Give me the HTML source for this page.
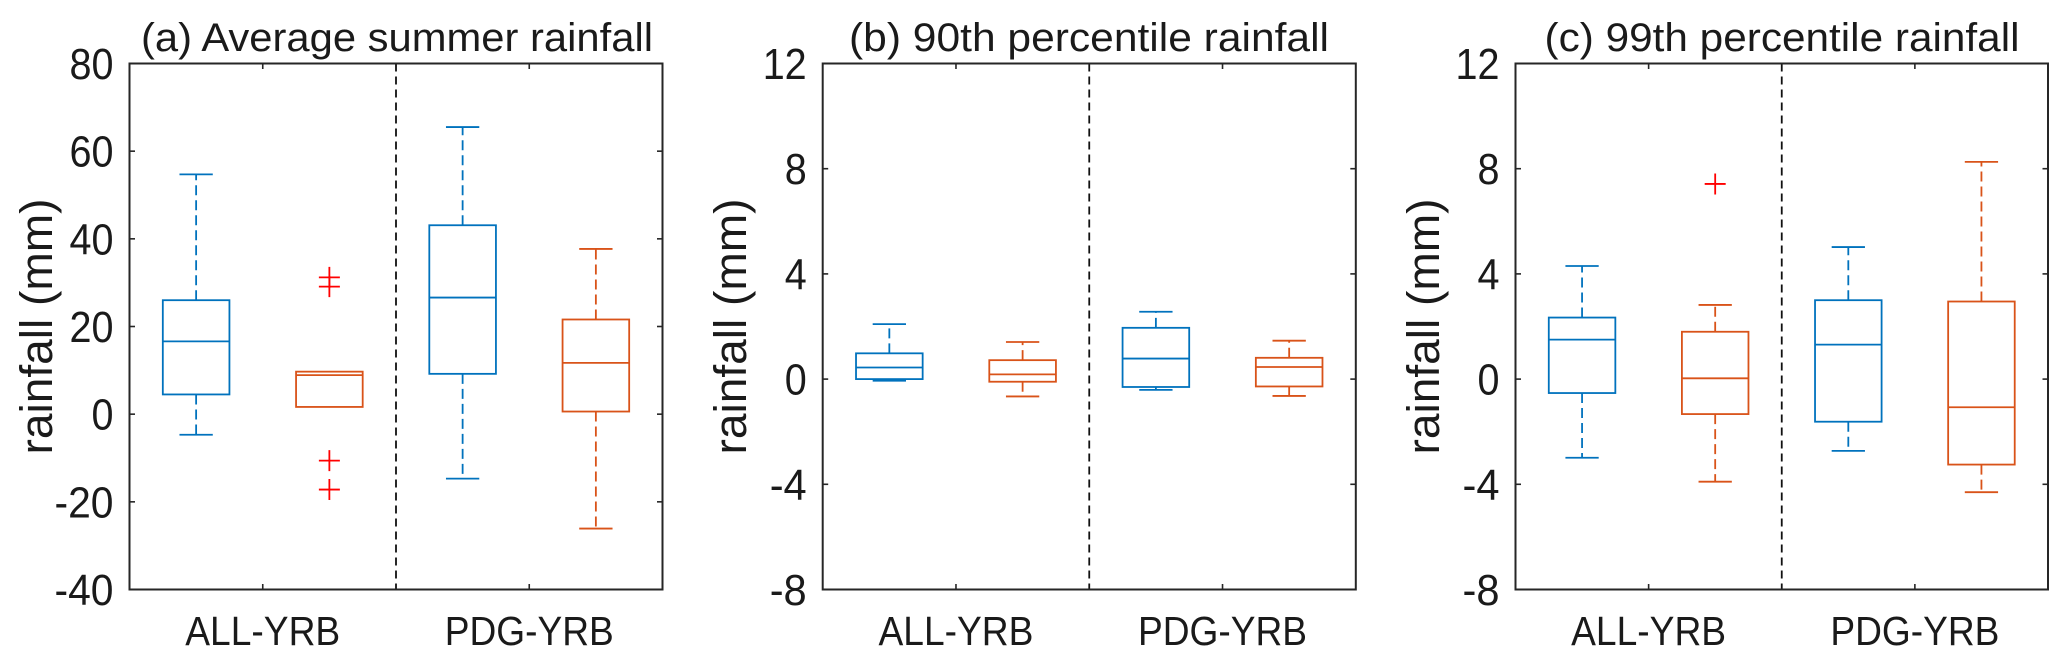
<!DOCTYPE html>
<html lang="en">
<head>
<meta charset="utf-8">
<title>Rainfall box plots</title>
<style>
html,body{margin:0;padding:0;background:#fff;width:2067px;height:667px;overflow:hidden}
svg{display:block}
text{font-family:"Liberation Sans","DejaVu Sans",sans-serif;fill:#1a1a1a}
</style>
</head>
<body>
<svg id="figure" xmlns="http://www.w3.org/2000/svg" width="2067" height="667" viewBox="0 0 2067 667">
  <rect x="0" y="0" width="2067" height="667" fill="#fff"/>
  <g id="panel-a">
    <text x="397" y="51" font-size="40" text-anchor="middle" textLength="512" lengthAdjust="spacingAndGlyphs">(a) Average summer rainfall</text>
    <text transform="translate(52,326.5) rotate(-90)" font-size="45" text-anchor="middle" textLength="256" lengthAdjust="spacingAndGlyphs">rainfall (mm)</text>
  </g>
  <g id="panel-b">
    <text x="1089" y="51" font-size="40" text-anchor="middle" textLength="480" lengthAdjust="spacingAndGlyphs">(b) 90th percentile rainfall</text>
    <text transform="translate(746,326.5) rotate(-90)" font-size="45" text-anchor="middle" textLength="256" lengthAdjust="spacingAndGlyphs">rainfall (mm)</text>
  </g>
  <g id="panel-c">
    <text x="1782" y="51" font-size="40" text-anchor="middle" textLength="475" lengthAdjust="spacingAndGlyphs">(c) 99th percentile rainfall</text>
    <text transform="translate(1439,326.5) rotate(-90)" font-size="45" text-anchor="middle" textLength="256" lengthAdjust="spacingAndGlyphs">rainfall (mm)</text>
  </g>
</svg>
<script>
// Shared labels
const groupLabels = ['ALL-YRB', 'PDG-YRB'];
const boxColors = ['#0072BD', '#D95319', '#0072BD', '#D95319'];

// Panel (a) average summer rainfall
const aTicks = [80, 60, 40, 20, 0, -20, -40];
const aHigh = [54.7, 9.7, 65.5, 37.7];
const aQ3 = [26.0, 9.7, 43.1, 21.6];
const aMedian = [16.6, 8.9, 26.6, 11.7];
const aQ1 = [4.5, 1.65, 9.2, 0.6];
const aLow = [-4.7, 1.65, -14.7, -26.1];
const aOutliers = [[], [31.2, 29.1, -10.6, -17.2], [], []];

// Panel (b) 90th percentile rainfall
const bTicks = [12, 8, 4, 0, -4, -8];
const bHigh = [2.09, 1.41, 2.56, 1.46];
const bQ3 = [0.98, 0.72, 1.95, 0.81];
const bMedian = [0.44, 0.18, 0.78, 0.46];
const bQ1 = [0.0, -0.1, -0.3, -0.28];
const bLow = [-0.06, -0.66, -0.41, -0.64];
const bOutliers = [[], [], [], []];

// Panel (c) 99th percentile rainfall
const cTicks = [12, 8, 4, 0, -4, -8];
const cHigh = [4.3, 2.82, 5.02, 8.26];
const cQ3 = [2.34, 1.8, 3.0, 2.95];
const cMedian = [1.5, 0.03, 1.31, -1.07];
const cQ1 = [-0.53, -1.33, -1.62, -3.25];
const cLow = [-2.99, -3.9, -2.73, -4.3];
const cOutliers = [[], [7.42], [], []];

const SVG_NS = 'http://www.w3.org/2000/svg';
const AXIS_COLOR = '#262626';

function make(parent, tag, attrs) {
  const el = document.createElementNS(SVG_NS, tag);
  for (const k in attrs) el.setAttribute(k, attrs[k]);
  parent.appendChild(el);
  return el;
}

function drawPanel(id, left, right, ticks, high, q3, median, q1, low, outliers) {
  const parent = document.getElementById(id);
  const top = 63.5, bottom = 589.5;
  const plotW = right - left;
  const yMax = Math.max.apply(null, ticks);
  const yMin = Math.min.apply(null, ticks);
  const xScale = function (pos) { return left + plotW * (pos - 0.5) / 4; };
  const yScale = function (v) { return bottom - (v - yMin) / (yMax - yMin) * (bottom - top); };
  const tickLen = 5.5;

  // y ticks and labels
  ticks.forEach(function (t) {
    const y = yScale(t);
    const tl = make(parent, 'line', { x1: left, x2: left + tickLen, y1: y, y2: y, stroke: AXIS_COLOR, 'stroke-width': 1.6 });
    
    
    const tr = make(parent, 'line', { x1: right, x2: right - tickLen, y1: y, y2: y, stroke: AXIS_COLOR, 'stroke-width': 1.6 });
    
    
    const str = String(t);
    const digits = str.replace('-', '').length;
    const labelWidth = digits * 22 + (t < 0 ? 15 : 0);
    const lab = make(parent, 'text', { x: left - 16, y: y + 15.5, 'font-size': 44, 'text-anchor': 'end', textLength: labelWidth, lengthAdjust: 'spacingAndGlyphs' });
    lab.textContent = str;
    
    
  });

  // x ticks at category boundaries
  [1.5, 3.5].forEach(function (pos) {
    const x = xScale(pos);
    const tb = make(parent, 'line', { x1: x, x2: x, y1: bottom, y2: bottom - tickLen, stroke: AXIS_COLOR, 'stroke-width': 1.6 });
    
    
    const tt = make(parent, 'line', { x1: x, x2: x, y1: top, y2: top + tickLen, stroke: AXIS_COLOR, 'stroke-width': 1.6 });
    
    
  });

  // group labels
  groupLabels.forEach(function (name, i) {
    const lab = make(parent, 'text', { x: xScale(1.5 + i * 2), y: 645, 'font-size': 41, 'text-anchor': 'middle', textLength: i === 0 ? 155 : 169, lengthAdjust: 'spacingAndGlyphs' });
    lab.textContent = name;
    
    
  });

  // divider between the two groups
  const div = make(parent, 'line', { x1: xScale(2.5), x2: xScale(2.5), y1: top, y2: bottom, stroke: '#111', 'stroke-width': 1.8, 'stroke-dasharray': '8 5' });
  
  

  // boxes
  high.forEach(function (h, i) {
    const pos = i + 1;
    const cx = xScale(pos);
    const halfBox = plotW * 0.25 / 4;
    const halfCap = plotW * 0.125 / 4;
    const color = boxColors[i];
    const g = make(parent, 'g', { fill: 'none', stroke: color, 'stroke-width': 1.8 });
    
    

    const wu = make(g, 'line', { x1: cx, x2: cx, y1: yScale(q3[i]), y2: yScale(h), 'stroke-dasharray': '10 5' });
    
    
    const wl = make(g, 'line', { x1: cx, x2: cx, y1: yScale(q1[i]), y2: yScale(low[i]), 'stroke-dasharray': '10 5' });
    
    

    if (h > q3[i]) {
      const cu = make(g, 'line', { x1: cx - halfCap, x2: cx + halfCap, y1: yScale(h), y2: yScale(h) });
      
      
    }
    if (low[i] < q1[i]) {
      const cl = make(g, 'line', { x1: cx - halfCap, x2: cx + halfCap, y1: yScale(low[i]), y2: yScale(low[i]) });
      
      
    }

    const rect = make(g, 'rect', { x: cx - halfBox, y: yScale(q3[i]), width: halfBox * 2, height: yScale(q1[i]) - yScale(q3[i]), fill: '#fff' });
    
    
    const med = make(g, 'line', { x1: cx - halfBox, x2: cx + halfBox, y1: yScale(median[i]), y2: yScale(median[i]) });
    
    

    outliers[i].forEach(function (v) {
      const y = yScale(v);
      const o = make(g, 'path', { d: 'M' + (cx - 10.5) + ' ' + y + 'H' + (cx + 10.5) + 'M' + cx + ' ' + (y - 10.5) + 'V' + (y + 10.5), stroke: '#FF0000', 'stroke-width': 1.8 });
      
      
    });
  });

  // axes frame
  const frame = make(parent, 'rect', { x: left, y: top, width: plotW, height: bottom - top, fill: 'none', stroke: AXIS_COLOR, 'stroke-width': 2 });
  
  
}

drawPanel('panel-a', 129.5, 662.5, aTicks, aHigh, aQ3, aMedian, aQ1, aLow, aOutliers);
drawPanel('panel-b', 822.7, 1355.8, bTicks, bHigh, bQ3, bMedian, bQ1, bLow, bOutliers);
drawPanel('panel-c', 1515.5, 2048, cTicks, cHigh, cQ3, cMedian, cQ1, cLow, cOutliers);
</script>
</body>
</html>
